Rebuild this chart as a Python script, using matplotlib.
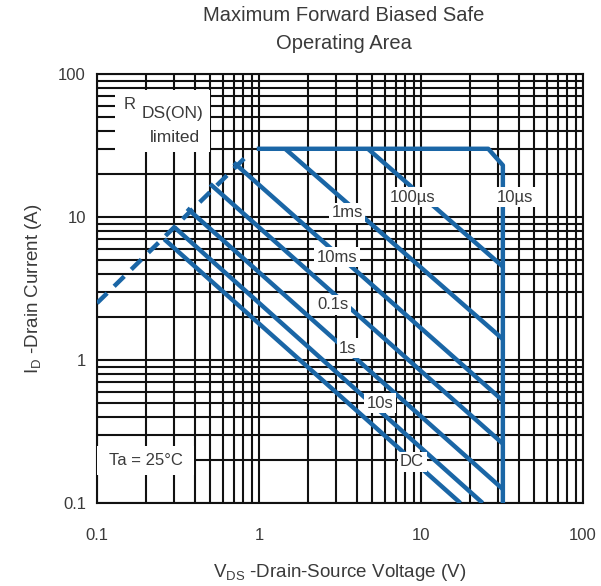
import matplotlib
matplotlib.use("Agg")
import matplotlib.pyplot as plt
from matplotlib.patches import Rectangle
import numpy as np

plt.rcParams['font.family'] = ['Liberation Sans', 'DejaVu Sans']

# Safe operating area boundaries (V, A)
rds_v = [0.1, 0.82]
rds_i = [2.5, 26]

pulse_10us_v = [1.0, 26, 32, 32]
pulse_10us_i = [30, 30, 23, 0.1]

# straight pulse limits: (label, start V, start A, end V, end A)
pulse_names = ["100µs", "1ms", "10ms", "0.1s", "1s", "10s", "DC"]
start_v = [4.7, 1.45, 0.70, 0.50, 0.36, 0.30, 0.26]
start_i = [30, 30, 24, 17, 11.5, 8.5, 7.0]
end_v = [32, 32, 32, 32, 32, 24, 17.5]
end_i = [4.5, 1.4, 0.52, 0.26, 0.125, 0.1, 0.1]

# where each curve is tagged (V, A)
tag_text = ["100µs", "10µs", "1ms", "10ms", "0.1s", "1s", "10s", "DC"]
tag_v = [8.9, 38, 3.5, 3.03, 2.87, 3.54, 5.58, 8.8]
tag_i = [13.8, 13.8, 10.7, 5.25, 2.43, 1.21, 0.5, 0.194]

x_ticks = [0.1, 1, 10, 100]
x_ticklabels = ["0.1", "1", "10", "100"]
y_ticks = [0.1, 1, 10, 100]
y_ticklabels = ["0.1", "1", "10", "100"]

blue = "#1a66a6"
txt = "#3a3a3a"

fig = plt.figure(figsize=(6.01, 5.86), dpi=100)
ax = fig.add_axes([0.1614, 0.1416, 0.8087, 0.7321])
ax.set_xscale("log")
ax.set_yscale("log")
ax.set_xlim(0.1, 100)
ax.set_ylim(0.1, 100)

ax.grid(True, which="both", color="#111111", linewidth=1.5, zorder=1)
ax.set_axisbelow(True)
for s in ax.spines.values():
    s.set_color("#111111")
    s.set_linewidth(1.5)

ax.set_xticks(x_ticks)
ax.set_xticklabels(x_ticklabels)
ax.set_yticks(y_ticks)
ax.set_yticklabels(y_ticklabels)
ax.tick_params(which="both", length=0, labelsize=12, colors=txt)
ax.tick_params(axis="x", pad=18)
ax.tick_params(axis="y", pad=8)

# curves
ax.plot(rds_v, rds_i, color=blue, lw=3.2, ls=(0, (3.2, 2.2)), zorder=3)
ax.plot(pulse_10us_v, pulse_10us_i, color=blue, lw=3.2, zorder=3,
        solid_joinstyle="round")
for v0, i0, v1, i1 in zip(start_v, start_i, end_v, end_i):
    ax.plot([v0, v1], [i0, i1], color=blue, lw=3.2, zorder=3,
            solid_capstyle="butt")

box = dict(boxstyle="square,pad=0.15", fc="white", ec="none")
for t, v, i in zip(tag_text, tag_v, tag_i):
    ax.text(v, i, t, ha="center", va="center", fontsize=12, color=txt,
            bbox=box, zorder=5)

# R DS(on) note
ax.add_patch(Rectangle((0.037, 0.818), 0.196, 0.145, transform=ax.transAxes,
                       fc="white", ec="none", zorder=4))
ax.text(0.068, 0.928, "R", transform=ax.transAxes, ha="center", va="center",
        fontsize=12, color=txt, zorder=5)
ax.text(0.156, 0.908, "DS(ON)", transform=ax.transAxes, ha="center",
        va="center", fontsize=12.5, color=txt, zorder=5)
ax.text(0.16, 0.853, "limited", transform=ax.transAxes, ha="center",
        va="center", fontsize=12.5, color=txt, zorder=5)

# ambient note
ax.add_patch(Rectangle((0.0, 0.065), 0.2, 0.068, transform=ax.transAxes,
                       fc="white", ec="none", zorder=4))
ax.text(0.1, 0.1, "Ta = 25°C", transform=ax.transAxes, ha="center",
        va="center", fontsize=12, color=txt, zorder=5)

fig.text(0.572, 0.974, "Maximum Forward Biased Safe", ha="center",
         va="center", fontsize=14.5, color=txt)
fig.text(0.572, 0.926, "Operating Area", ha="center", va="center",
         fontsize=14.5, color=txt)

ax.set_xlabel("V$_{\\mathregular{DS}}$ -Drain-Source Voltage (V)",
              fontsize=13.5, color=txt, labelpad=14)
ax.set_ylabel("I$_{\\mathregular{D}}$ -Drain Current (A)", fontsize=13.5,
              color=txt, labelpad=10)

fig.savefig("out.png", dpi=100, facecolor="white")
